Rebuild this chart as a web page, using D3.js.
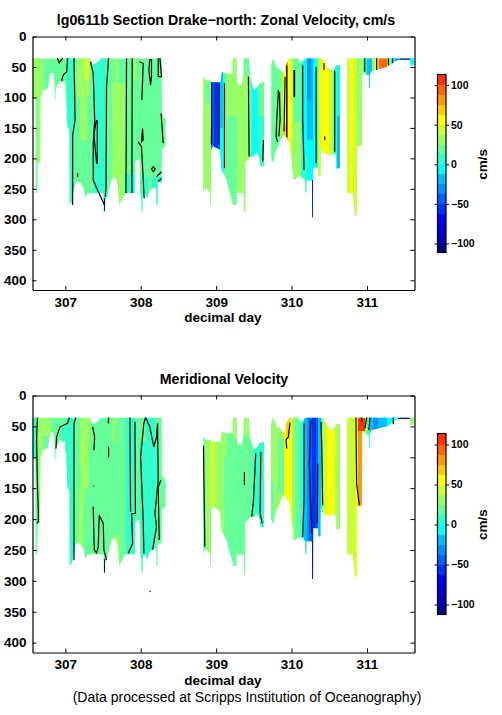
<!DOCTYPE html>
<html><head><meta charset="utf-8">
<script src="https://cdn.jsdelivr.net/npm/d3@7"></script>
<style>
html,body{margin:0;padding:0;background:#fff}
svg{display:block}
text{font-family:"Liberation Sans",Arial,sans-serif;fill:#000}
</style></head><body>
<svg id="c" width="502" height="715"></svg>
<script>
const dayTicks=[307,308,309,310,311];
const depthTicks=[0,50,100,150,200,250,300,350,400];
const barTicks=[-100,-50,0,50,100];
const levelEdges=[-100,-87.5,-75,-62.5,-50,-37.5,-25,-12.5,0,12.5,25,37.5,50,62.5,75,87.5,100];
const levelColors=["#00008f","#0000b8","#0000e0","#0000ff","#0030ff","#0060ff","#0090ff","#00c0ff","#00ffff","#30ffcc","#66ff99","#99ff66","#ccff33","#ffff00","#ffcc00","#ff9900","#ff6600","#ff3300"];

// ship-track data coverage: [day, top depth, bottom depth]
const coverageA=[[306.565,36,98],[306.605,36,104],[306.61,36,257],[306.628,36,257],[306.632,36,208],[306.665,36,205],[306.672,36,100],[306.71,36,88],[306.77,36,85],[306.785,36,72],[306.80,36,60],[306.84,36,60],[306.858,36,78],[306.86,36,106],[306.868,36,106],[306.875,36,85],[306.93,36,72],[306.97,36,75],[306.995,36,72],[307.03,36,148],[307.055,36,155],[307.06,36,276],[307.09,36,270],[307.12,36,248],[307.15,36,238],[307.20,36,240],[307.24,36,248],[307.265,36,264],[307.30,36,257],[307.325,36,257],[307.36,46,257],[307.41,44,257],[307.46,38,257],[307.47,36,257],[307.505,36,257],[307.51,36,287],[307.525,36,287],[307.53,36,268],[307.56,36,262],[307.59,36,245],[307.62,36,232],[307.67,36,232],[307.70,36,245],[307.715,36,276],[307.75,36,268],[307.79,36,257],[307.925,36,257],[307.93,36,205],[307.985,36,200],[307.99,36,255],[308.01,36,270],[308.012,36,287],[308.022,36,287],[308.025,36,262],[308.05,36,257],[308.09,36,265],[308.11,36,255],[308.165,36,248],[308.205,36,248],[308.208,36,276],[308.222,36,276],[308.225,36,239],[308.278,36,239],[308.282,129,184],[308.30,133,184],[308.33,135,178]];
const coverageB=[[308.83,66,257],[308.845,70,250],[308.87,72,248],[308.92,72,257],[308.922,72,276],[308.93,72,276],[308.932,75,186],[308.96,75,180],[309.05,75,186],[309.06,75,195],[309.075,58,219],[309.10,60,225],[309.14,61,235],[309.18,61,255],[309.218,61,270],[309.222,36,276],[309.27,36,276],[309.272,65,257],[309.29,80,257],[309.34,80,257],[309.365,60,257],[309.368,36,288],[309.385,36,288],[309.387,36,206],[309.435,36,200],[309.445,65,197],[309.47,75,197],[309.50,88,197],[309.535,85,190],[309.58,77,200],[309.59,77,213],[309.635,75,213]];
const coverageC=[[309.73,45,199],[309.755,37,207],[309.762,37,207],[309.77,40,199],[309.80,50,186],[309.83,52,178],[309.87,58,165],[309.91,61,161],[309.93,45,165],[309.975,36,175],[309.995,36,195],[310.03,36,235],[310.09,36,230],[310.12,44,228],[310.15,40,232],[310.183,36,236],[310.185,36,256],[310.195,36,256],[310.197,36,236],[310.273,36,236],[310.275,36,297],[310.285,36,297],[310.287,36,215],[310.353,36,215],[310.355,36,228],[310.383,36,228],[310.385,36,181],[310.42,38,190],[310.49,53,195],[310.555,56,192],[310.59,47,195],[310.592,47,216],[310.64,47,216]];
const coverageD=[[310.74,36,257],[310.815,36,257],[310.82,36,265],[310.84,36,290],[310.865,36,296],[310.87,36,180],[310.93,36,178],[310.935,36,65],[310.95,36,58],[310.995,36,63],[311.025,36,63],[311.026,36,85],[311.036,36,85],[311.037,36,63],[311.06,36,56],[311.26,36,50],[311.305,36,47],[311.35,36,42],[311.415,36,38],[311.57,36,38],[311.58,36,47],[311.625,36,47]];
const coverage=[coverageA,coverageB,coverageC,coverageD];

// filled velocity patches: [day from, day to, cm/s, depth from, depth to] (depth optional)
const zonalPatches=[[306.5,311.7,19],
[306.565,306.71,31,36,100],[306.63,306.67,31,100,210],[307.02,307.13,6,36,150],[307.05,307.11,6,150,290],
[307.16,307.33,31,36,100],[307.20,307.29,31,100,170],[307.245,307.31,44,36,72],
[307.37,307.55,6],[307.62,307.82,31,76,300],[307.66,307.70,31,36,76],[307.79,307.93,6,225,260],[308.0,308.1,6,230,290],[308.15,308.28,6,230,280],[307.91,307.95,31,36,70],
[308.83,308.93,31],[308.87,308.93,19,75,110],[308.93,308.94,-31],[308.94,308.965,-44],[308.965,309.03,-56],[309.03,309.05,-44],[309.05,309.085,-19],[309.05,309.085,-6,150,240],[309.085,309.10,6],[309.10,309.43,31],[309.10,309.14,19],[309.14,309.27,19,130,280],[309.37,309.44,19,36,65],[309.43,309.46,19],[309.46,309.48,6],[309.48,309.56,-6],[309.56,309.64,6],[309.56,309.64,19,60,130],
[309.86,309.885,31],[309.885,309.925,44],[309.905,309.925,56],[309.89,309.925,69,145,170],[309.925,309.955,81],[309.955,309.99,56],[309.99,310.02,44],[310.0,310.13,31,140,240],
[310.13,310.17,6],[310.17,310.20,-6],[310.20,310.29,-19],[310.205,310.26,-31,36,105],[310.13,310.29,6,195,240],[310.2,310.29,-6,170,240],[310.29,310.33,-6],[310.33,310.355,6],[310.355,310.385,44],[310.385,310.49,56],[310.49,310.53,44],[310.53,310.56,31],[310.56,310.6,6],[310.6,310.64,-6],[310.6,310.64,-19,130,220],
[310.74,310.775,44],[310.775,310.82,56],[310.82,310.87,44],[310.87,310.95,31],[310.93,310.95,44],[310.95,310.995,6],[310.995,311.06,-19],[311.06,311.10,31],[311.10,311.13,56],[311.13,311.165,69],[311.165,311.26,94],[311.26,311.285,56],[311.285,311.325,19],[311.325,311.37,-6],[311.37,311.44,-31],[311.44,311.57,-94],[311.57,311.625,-6]];

const meridionalPatches=[[306.5,311.7,19],
[306.565,306.61,6],[306.63,306.81,31,36,65],[306.635,306.70,31,65,100],[306.64,306.67,31,100,200],[306.96,307.02,6,50,90],[307.02,307.11,6,36,300],
[307.19,307.33,31,36,85],[307.2,307.31,31,85,150],[307.18,307.25,31,150,200],[307.165,307.24,31,200,257],[307.22,307.24,44,70,115],[307.63,307.675,31,36,75],[307.81,307.83,31,70,100],[307.64,307.72,31,225,280],
[307.8,307.92,6,36,260],[308.07,308.19,6,36,75],[307.99,308.21,6,75,220],[308.0,308.19,6,220,290],
[308.855,309.1,31],[308.92,308.99,44,75,180],[309.1,309.14,31,60,100],[309.22,309.27,31,36,70],[309.37,309.44,31,36,65],[309.49,309.64,6],
[309.73,309.905,31],[309.82,309.905,19,70,160],[309.73,309.77,19,140,210],[309.905,310.0,56],[309.93,309.98,69,36,70],[310.0,310.05,31],[310.05,310.11,19],[310.11,310.16,6],[310.16,310.2,-19],[310.2,310.235,-31],[310.235,310.27,-44],[310.27,310.33,-56],[310.33,310.355,-44],[310.355,310.385,-19],[310.385,310.42,19],[310.42,310.465,44],[310.465,310.56,56],[310.56,310.6,44],[310.6,310.64,31],
[310.74,310.85,44],[310.85,310.875,56],[310.875,310.93,81],[310.875,310.98,106,36,58],[310.98,310.995,44],[310.995,311.04,6],[311.04,311.075,-19],[311.075,311.15,-31],[311.15,311.26,-19],[311.26,311.35,-6],[311.35,311.415,6],[311.415,311.57,-94],[311.57,311.625,31]];

// thin deep pings shared by both sections: [day from, day to, cm/s, depth from, depth to]
const deepPings=[[307.51,307.53,-94,265,287],[310.185,310.195,-94,236,256],[310.275,310.285,-94,235,297]];

// contour traces: lists of [day, depth]
const zonalContours=[
[[306.894,35.5],[306.92,43],[306.965,35.5]],
[[307.03,35.5],[307.018,58],[306.974,63],[306.95,73]],
[[307.115,35.5],[307.13,137],[307.097,162],[307.097,276.5]],
[[307.335,41.5],[307.37,61],[307.39,137],[307.37,175],[307.37,235.5],[307.437,254.6],[307.52,276.5]],
[[307.424,137],[307.406,140],[307.38,162],[307.415,208],[307.424,208],[307.424,137]],
[[307.574,35.5],[307.547,82.5],[307.54,246],[307.53,263]],
[[307.812,35.5],[307.804,257]],
[[307.887,35.5],[307.883,257]],
[[307.98,41.5],[308.033,44],[308.015,104]],
[[308.12,38],[308.108,55],[308.13,80],[308.143,66],[308.143,38],[308.12,38]],
[[308.232,35.5],[308.232,66],[308.276,66],[308.254,35.5]],
[[308.27,126],[308.298,175]],
[[308.024,151],[308.011,173],[308.033,170],[308.024,151]],
[[307.967,173],[308.011,181],[308.042,257],[308.046,265.6]],
[[308.166,213.7],[308.192,217.5],[308.166,222],[308.143,217.5],[308.166,213.7]],
[[307.163,224.6],[307.163,230]],
[[308.21,230],[308.276,222]],[[308.232,238],[308.276,233]],
[[308.943,75],[308.938,178]],[[309.04,77],[309.04,178]],[[309.11,77],[309.11,216]],[[309.428,66],[309.437,197]],[[309.627,170],[309.618,205]],
[[309.826,88],[309.804,137],[309.795,164],[309.812,173]],
[[309.84,91],[309.848,137],[309.83,164]],
[[309.914,66],[309.90,156]],[[309.936,47],[309.936,165]],
[[310.033,55],[310.033,99]],[[310.04,55],[310.04,99]],
[[310.148,47],[310.148,137],[310.166,219]],
[[310.325,50],[310.325,208]],
[[310.43,44],[310.43,55]],[[310.44,164],[310.44,170]],
[[310.572,56],[310.572,189]],
[[310.97,35.5],[310.97,58]],[[311.128,35.5],[311.128,55]],[[311.283,35.5],[311.283,47]],[[311.34,35.5],[311.34,44]]];

const meridionalContours=[
[[306.63,35.6],[306.62,72],[306.63,142.5],[306.642,185.6],[306.642,204.5],[306.62,207]],
[[307.053,35.6],[307.03,45],[306.93,50.7],[306.885,67],[306.876,86]],
[[307.14,35.6],[307.115,45],[307.115,239.6],[307.115,266.6]],
[[307.362,50.7],[307.389,67],[307.38,88.5]],
[[307.574,35.6],[307.57,45]],[[307.574,83],[307.574,100]],
[[307.37,180],[307.384,250],[307.415,254.7],[307.437,245],[307.45,193.7],[307.503,207],[307.512,250],[307.547,266.6]],
[[307.37,146],[307.375,147]],
[[307.857,35.6],[307.865,188]],
[[307.923,42.6],[307.93,191],[307.88,191],[307.892,239.6],[307.834,255.8]],
[[308.064,35.6],[308.042,45],[307.998,99],[308.033,202],[308.042,255.8]],
[[308.064,35.6],[308.12,50.7],[308.174,83],[308.21,67],[308.223,45],[308.232,137],[308.188,191],[308.21,212.6],[308.157,250]],
[[308.267,137],[308.232,148],[308.245,234]],
[[308.12,316],[308.126,318]],
[[308.832,81.5],[308.841,164],[308.85,245]],
[[309.375,123.6],[309.375,145]],
[[309.525,94],[309.495,169.5],[309.472,196]],
[[309.592,91],[309.583,191],[309.61,207]],
[[309.98,44],[309.958,67],[309.927,72],[309.936,86]],
[[310.166,45],[310.166,164],[310.148,229]],
[[310.254,40],[310.236,110],[310.267,223]],
[[310.347,110],[310.342,207]],
[[310.39,42.6],[310.40,83],[310.413,177.5]],
[[310.854,35.6],[310.863,142.5],[310.898,177.5]],
[[310.929,35.6],[310.929,42.6]],[[310.996,35.6],[310.974,53.4]],[[311.04,35.6],[311.026,56]],[[311.349,35.6],[311.349,46.4]]];

const svg=d3.select("#c");
const color=d3.scaleThreshold().domain(levelEdges).range(levelColors);
const line=(x,y)=>d3.line().x(p=>x(p[0])).y(p=>y(p[1]));

function panel(o){
  const x=d3.scaleLinear().domain([306.565,311.63]).range([32.5,414.5]);
  const y=d3.scaleLinear().domain([0,416]).range([o.top,o.bottom]);
  const g=svg.append("g");
  const clip=g.append("clipPath").attr("id",o.id);
  const area=d3.area().x(r=>x(r[0])).y0(r=>y(r[1])).y1(r=>y(r[2]));
  clip.selectAll("path").data(coverage).join("path").attr("d",area);
  g.append("g").attr("clip-path",`url(#${o.id})`)
   .selectAll("rect").data(o.patches.concat(deepPings)).join("rect")
   .attr("shape-rendering","crispEdges")
   .attr("x",r=>x(r[0])).attr("width",r=>x(r[1])-x(r[0]))
   .attr("y",r=>y(r.length>3?r[3]:0)).attr("height",r=>y(r.length>3?r[4]:416)-y(r.length>3?r[3]:0))
   .attr("fill",r=>color(r[2]));
  g.append("g").selectAll("path").data(o.contours).join("path")
   .attr("d",line(x,y)).attr("fill","none").attr("stroke","#000").attr("stroke-width",1.2);

  const blank=()=>"";
  const fix=s=>{s.select(".domain").attr("stroke-width",1.2);s.selectAll("line").attr("stroke-width",1);s.selectAll("text").attr("font-size",13.5).attr("font-weight","bold").style("font-family",'"Liberation Sans",Arial,sans-serif');};
  g.append("g").attr("transform",`translate(0,${o.bottom})`).call(d3.axisBottom(x).tickValues(dayTicks).tickFormat(d3.format("d")).tickSize(-4).tickPadding(7).tickSizeOuter(0)).call(fix);
  g.append("g").attr("transform",`translate(0,${o.top})`).call(d3.axisTop(x).tickValues(dayTicks).tickFormat(blank).tickSize(-4).tickSizeOuter(0)).call(fix);
  g.append("g").attr("transform","translate(32.5,0)").call(d3.axisLeft(y).tickValues(depthTicks).tickFormat(d3.format("d")).tickSize(-4).tickPadding(6).tickSizeOuter(0)).call(fix);
  g.append("g").attr("transform","translate(414.5,0)").call(d3.axisRight(y).tickValues(depthTicks).tickFormat(blank).tickSize(-4).tickSizeOuter(0)).call(fix);

  g.append("text").attr("x",o.titleX).attr("y",o.titleY).attr("text-anchor","middle").attr("font-size",14.2).attr("font-weight","bold").text(o.title);
  g.append("text").attr("x",223).attr("y",o.bottom+32).attr("text-anchor","middle").attr("font-size",13.5).attr("font-weight","bold").text("decimal day");

  // colour bar
  const b=d3.scaleLinear().domain(o.barDomain).range(o.barRange);
  const edges=[o.barDomain[0],...levelEdges,o.barDomain[1]];
  g.append("g").selectAll("rect").data(levelColors).join("rect").attr("shape-rendering","crispEdges")
   .attr("x",437.5).attr("width",8.5).attr("y",(c,i)=>b(edges[i+1])).attr("height",(c,i)=>b(edges[i])-b(edges[i+1])).attr("fill",c=>c);
  g.append("rect").attr("x",437.5).attr("width",8.5).attr("y",o.barRange[1]).attr("height",o.barRange[0]-o.barRange[1]).attr("fill","none").attr("stroke","#000").attr("stroke-width",1.2);
  const fixBar=s=>{s.select(".domain").remove();s.selectAll("text").attr("font-size",10.5).attr("font-weight","bold").style("font-family",'"Liberation Sans",Arial,sans-serif');};
  g.append("g").attr("transform","translate(446,0)").call(d3.axisRight(b).tickValues(barTicks).tickFormat(d3.format("d")).tickSize(3).tickPadding(2)).call(fixBar);
  g.append("g").attr("transform","translate(437.5,0)").call(d3.axisLeft(b).tickValues(barTicks).tickFormat(blank).tickSize(3)).call(fixBar);
  g.append("text").attr("transform",`translate(487,${b(0)}) rotate(-90)`).attr("text-anchor","middle").attr("font-size",13.5).attr("font-weight","bold").text("cm/s");
}

panel({id:"zonal",top:36.5,bottom:290,patches:zonalPatches,contours:zonalContours,title:"lg0611b Section Drake\u2212north: Zonal Velocity, cm/s",titleX:226,titleY:25,barDomain:[-111.5,113.5],barRange:[252.5,74.5]});
panel({id:"meridional",top:395.5,bottom:652.5,patches:meridionalPatches,contours:meridionalContours,title:"Meridional Velocity",titleX:224,titleY:384,barDomain:[-112.5,113.75],barRange:[614.5,433.5]});

svg.append("text").attr("x",247).attr("y",702).attr("text-anchor","middle").attr("font-size",14).text("(Data processed at Scripps Institution of Oceanography)");
</script>
</body></html>
